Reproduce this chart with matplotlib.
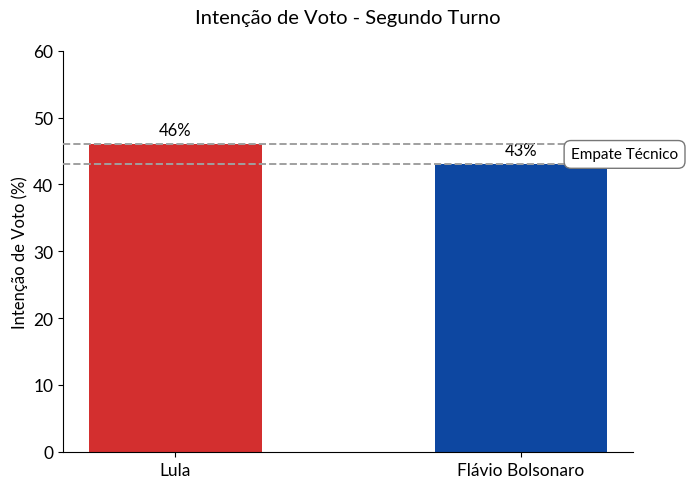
import matplotlib
matplotlib.use("Agg")
import matplotlib.pyplot as plt

candidates = ["Lula", "Flávio Bolsonaro"]
votes = [46, 43]
colors = ["#d32f2f", "#0d47a1"]
yticks = [0, 10, 20, 30, 40, 50, 60]

plt.rcParams['font.family'] = ['Lato', 'DejaVu Sans']

fig, ax = plt.subplots(figsize=(6.89, 4.89), dpi=100)
fig.subplots_adjust(left=0.0915, right=0.919, bottom=0.074, top=0.894)

bars = ax.bar(candidates, votes, width=0.5, color=colors, zorder=2)
for i, v in enumerate(votes):
    ax.text(i, v + 1, f"{v}%", ha="center", va="bottom", fontsize=12)

for v in votes:
    ax.axhline(v, color="#a0a0a0", linestyle="--", linewidth=1.4, zorder=3)

ax.text(1.3, (votes[0] + votes[1]) / 2, "Empate Técnico", ha="center", va="center",
        fontsize=11, zorder=5,
        bbox=dict(boxstyle="round,pad=0.45", facecolor="white", edgecolor="#777777"))

ax.set_ylim(0, 60)
ax.set_yticks(yticks)
ax.set_ylabel("Intenção de Voto (%)", fontsize=12)
ax.set_title("Intenção de Voto - Segundo Turno", fontsize=14.5, pad=20)
ax.tick_params(axis="both", labelsize=12.5)
ax.spines["top"].set_visible(False)
ax.spines["right"].set_visible(False)

fig.savefig("out.png", dpi=100)
